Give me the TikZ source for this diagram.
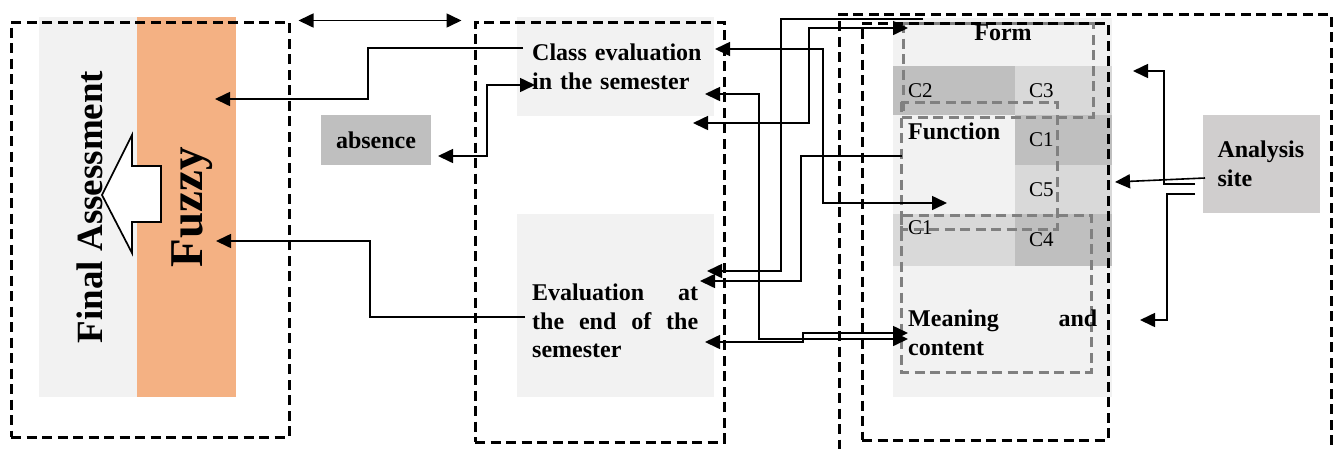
\documentclass[tikz,border=0pt]{standalone}
\usepackage{fontspec}
\setmainfont{Liberation Serif}
\usepackage{tikz}
\usetikzlibrary{shapes, arrows, arrows.meta, positioning}
\usepackage{xcolor}
\definecolor{panelgray}{HTML}{F2F2F2}
\definecolor{cellmid}{HTML}{D9D9D9}
\definecolor{celldark}{HTML}{BFBFBF}
\definecolor{sitegray}{HTML}{D0CECE}
\definecolor{fuzzyorange}{HTML}{F4B183}
\definecolor{framegray}{HTML}{808080}
\tikzstyle{panel} = [
    rectangle,
    inner sep=0pt,
    outer sep=0pt
]
\tikzstyle{frame} = [
    rectangle,
    draw=black,
    line width=3pt,
    dash pattern=on 10pt off 5.5pt,
    inner sep=0pt
]
\tikzstyle{subframe} = [
    draw=framegray,
    line width=3pt,
    dash pattern=on 10pt off 5.5pt
]
\tikzstyle{boldtext} = [
    inner sep=0pt,
    font=\fontsize{24}{28.5}\selectfont\bfseries
]
\tikzstyle{cellname} = [
    inner sep=0pt,
    font=\fontsize{21}{24}\selectfont
]
\tikzstyle{link} = [
    draw=black,
    line width=1.6pt
]

\begin{document}
\begin{tikzpicture}[x=1pt, y=-1pt, >={Triangle[length=15pt,width=14pt]}]
            \useasboundingbox (0,0) rectangle (1338,448);
            \clip (0,0) rectangle (1338,448);

            \node[panel, fill=panelgray, minimum width=98pt, minimum height=380pt] (assess) at (88,207) {};
            \node[panel, fill=fuzzyorange, minimum width=99pt, minimum height=380pt] (fuzzy) at (186.5,207) {};
            \node[panel, fill=celldark, minimum width=110pt, minimum height=50pt, boldtext] (absence) at (376,140) {absence};
            \node[panel, fill=panelgray, minimum width=197pt, minimum height=99pt] (classEval) at (615.5,66.5) {};
            \node[panel, fill=panelgray, minimum width=197pt, minimum height=183pt] (evalEnd) at (615.5,305.5) {};
            \node[panel, fill=panelgray, minimum width=219pt, minimum height=379pt] (rightPanel) at (1002.5,207.5) {};
            \node[panel, fill=celldark, minimum width=122pt, minimum height=49pt] (c2) at (954,90.5) {};
            \node[panel, fill=cellmid, minimum width=97pt, minimum height=49pt] (c3) at (1063.5,90.5) {};
            \node[panel, fill=celldark, minimum width=97pt, minimum height=50pt] (c1) at (1063.5,140) {};
            \node[panel, fill=cellmid, minimum width=97pt, minimum height=49pt] (c5) at (1063.5,189.5) {};
            \node[panel, fill=cellmid, minimum width=122pt, minimum height=52pt] (c1b) at (954,240) {};
            \node[panel, fill=celldark, minimum width=97pt, minimum height=52pt] (c4) at (1063.5,240) {};
            \node[panel, fill=sitegray, minimum width=117pt, minimum height=98pt, text width=88pt, align=left, boldtext] (site) at (1261.5,164) {Analysis\\site};

            \draw[subframe] (903,23) rectangle (1093,117);
            \draw[subframe] (901,102) rectangle (1057,229);
            \draw[subframe] (901,215) rectangle (1091,372);

            \node[frame, minimum width=278pt, minimum height=415pt] (leftBox) at (150,229.5) {};
            \node[frame, minimum width=249pt, minimum height=420pt] (midBox) at (599.5,232) {};
            \node[frame, minimum width=492pt, minimum height=466pt] (rightOuter) at (1085,247) {};
            \node[frame, minimum width=246pt, minimum height=417pt] (rightInner) at (985,231.5) {};

            \draw[line width=1.7pt, fill=white] (102,195) -- (132,135) -- (132,166) -- (161,166) -- (161,222) -- (132,222) -- (132,253) -- cycle;

            \node[rotate=90, inner sep=0pt, font=\fontsize{37}{40}\selectfont\bfseries] (finalText) at (89.5,207) {Final Assessment};
            \node[rotate=90, inner sep=0pt, font=\fontsize{47}{50}\selectfont\bfseries] (fuzzyText) at (192,207) {Fuzzy};
            \node[boldtext, text width=180pt, align=left, anchor=north west] (classText) at (532,44) {Class evaluation\\in the semester};
            \node[boldtext, text width=166pt, align=left, anchor=north west] (evalText) at (532,284) {Evaluation\hfill at\\the\hfill end\hfill of\hfill the\\semester};
            \node[boldtext] (formText) at (1003,33) {Form};
            \node[boldtext, anchor=west] (funcText) at (908,131) {Function};
            \node[boldtext, text width=189pt, align=left, anchor=north west] (meanText) at (908,310) {Meaning\hfill and\\content};
            \node[cellname, right=15pt of c2.west] (c2Text) {C2};
            \node[cellname, right=14pt of c3.west] (c3Text) {C3};
            \node[cellname, right=14pt of c1.west] (c1Text) {C1};
            \node[cellname, right=14pt of c5.west] (c5Text) {C5};
            \node[cellname, anchor=west] (c1bText) at (908,228) {C1};
            \node[cellname, right=14pt of c4.west] (c4Text) {C4};

            \draw[link,<->] ([shift={(8,0)}]leftBox.north east) -- ([shift={(-12,0)}]midBox.north west);
            \draw[link,->] ([shift={(6,-18.5)}]classEval.west) -- ++(-155,0) |- ([shift={(-21,-108)}]fuzzy.east);
            \draw[link,->] ([shift={(8,11.5)}]evalEnd.west) -- ++(-155,0) |- ([shift={(-20,34)}]fuzzy.east);
            \draw[link,<->] ([shift={(7,16)}]absence.east) -- ++(49,0) |- ([shift={(18,18.5)}]classEval.west);

            \draw[link,->] ([shift={(30,1)}]rightPanel.north west) -- ++(-142,0) |- ([shift={(-7,-34.5)}]evalEnd.east);
            \draw[link,<->] ([shift={(-21,7)}]classEval.south east) -- ++(116,0) |- ([shift={(15,10)}]rightPanel.north west);
            \draw[link,<->] ([shift={(1,-17.5)}]classEval.east) -- ++(108,0) |- ([shift={(54,-4.5)}]rightPanel.west);
            \draw[link,<->] ([shift={(-9,27.5)}]classEval.east) -- ++(54,0) |- ([shift={(15,-58)}]rightPanel.south west);
            \draw[link,<->] ([shift={(-9,36.5)}]evalEnd.east) -- ++(98,0) |- ([shift={(15,-64)}]rightPanel.south west);
            \draw[link,->] ([shift={(9,-51.5)}]rightPanel.west) -- ++(-101,0) |- ([shift={(-14,-24.5)}]evalEnd.east);

            \draw[link,->] ([shift={(2,14)}]site.west) -- ([shift={(3,-7.5)}]c5.east);
            \draw[link,->] ([shift={(-8,20)}]site.west) -- ++(-31,0) |- ([shift={(21,-19.5)}]c3.east);
            \draw[link,->] ([shift={(-8,30)}]site.west) -- ++(-28,0) |- ([shift={(28,112.5)}]rightPanel.east);
        \end{tikzpicture}
\end{document}
